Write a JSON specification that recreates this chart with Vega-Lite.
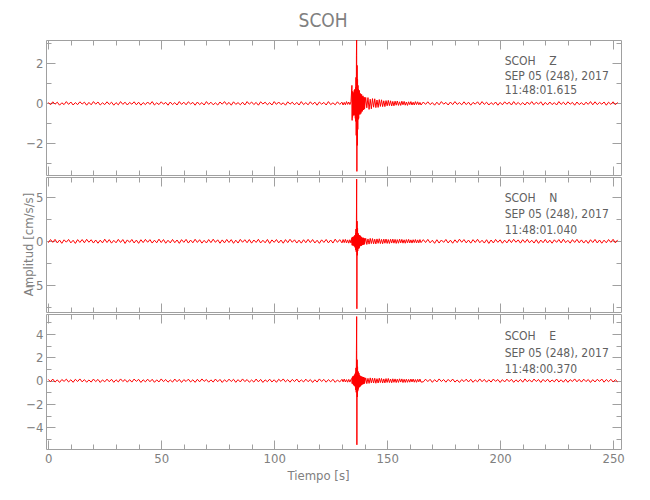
{
"$schema": "https://vega.github.io/schema/vega-lite/v6.json",
"background": "white",
"padding": {"left": 21, "top": 12, "right": 5, "bottom": 5},
"title": {"text": "SCOH", "fontSize": 19, "font": "Liberation Sans Narrow, DejaVu Sans Condensed, sans-serif", "fontWeight": "normal", "color": "#808080", "anchor": "middle", "offset": 8},
"spacing": 0,
"datasets": {
"notes": [
{"panel":"Z","t":202,"y":2.12,"label":"SCOH\u00a0\u00a0\u00a0\u00a0Z"},
{"panel":"Z","t":202,"y":1.39,"label":"SEP 05 (248), 2017"},
{"panel":"Z","t":202,"y":0.67,"label":"11:48:01.615"},
{"panel":"N","t":202,"y":4.92,"label":"SCOH\u00a0\u00a0\u00a0\u00a0N"},
{"panel":"N","t":202,"y":3.15,"label":"SEP 05 (248), 2017"},
{"panel":"N","t":202,"y":1.26,"label":"11:48:01.040"},
{"panel":"E","t":202,"y":3.85,"label":"SCOH\u00a0\u00a0\u00a0\u00a0E"},
{"panel":"E","t":202,"y":2.41,"label":"SEP 05 (248), 2017"},
{"panel":"E","t":202,"y":1.03,"label":"11:48:00.370"}
],
"wave": [
{"t":0,"z":0.05,"n":-0.16,"e":0.11},{"t":1,"z":-0.07,"n":0.2,"e":-0.09},{"t":2,"z":0.08,"n":-0.12,"e":0.14},{"t":3,"z":-0.04,"n":0.22,"e":-0.12},{"t":4,"z":0.06,"n":-0.19,"e":0.07},
{"t":5,"z":-0.09,"n":0.14,"e":-0.15},{"t":6,"z":0.03,"n":-0.23,"e":0.1},{"t":7,"z":-0.06,"n":0.17,"e":-0.06},{"t":8,"z":0.09,"n":-0.1,"e":0.13},{"t":9,"z":-0.05,"n":0.21,"e":-0.11},
{"t":10,"z":0.07,"n":-0.18,"e":0.08},{"t":11,"z":-0.08,"n":0.12,"e":-0.14},{"t":12,"z":0.04,"n":-0.24,"e":0.12},{"t":13,"z":-0.06,"n":0.19,"e":-0.07},{"t":14,"z":0.08,"n":-0.13,"e":0.15},
{"t":15,"z":-0.03,"n":0.2,"e":-0.1},{"t":16,"z":0.06,"n":-0.17,"e":0.09},{"t":17,"z":-0.09,"n":0.23,"e":-0.13},{"t":18,"z":0.05,"n":-0.11,"e":0.06},{"t":19,"z":-0.07,"n":0.18,"e":-0.12},
{"t":20,"z":0.09,"n":-0.2,"e":0.14},{"t":21,"z":-0.04,"n":0.15,"e":-0.08},{"t":22,"z":0.07,"n":-0.22,"e":0.11},{"t":23,"z":-0.08,"n":0.13,"e":-0.15},{"t":24,"z":0.03,"n":-0.18,"e":0.07},
{"t":25,"z":-0.06,"n":0.24,"e":-0.1},{"t":26,"z":0.08,"n":-0.14,"e":0.13},{"t":27,"z":-0.05,"n":0.19,"e":-0.09},{"t":28,"z":0.06,"n":-0.21,"e":0.12},{"t":29,"z":-0.09,"n":0.11,"e":-0.14},
{"t":30,"z":0.04,"n":-0.17,"e":0.08},{"t":31,"z":-0.07,"n":0.22,"e":-0.11},{"t":32,"z":0.09,"n":-0.13,"e":0.15},{"t":33,"z":-0.05,"n":0.2,"e":-0.07},{"t":34,"z":0.06,"n":-0.24,"e":0.1},
{"t":35,"z":-0.08,"n":0.16,"e":-0.13},{"t":36,"z":0.05,"n":-0.12,"e":0.09},{"t":37,"z":-0.04,"n":0.21,"e":-0.12},{"t":38,"z":0.08,"n":-0.19,"e":0.14},{"t":39,"z":-0.07,"n":0.14,"e":-0.06},
{"t":40,"z":0.06,"n":-0.23,"e":0.11},{"t":41,"z":-0.09,"n":0.18,"e":-0.15},{"t":42,"z":0.04,"n":-0.15,"e":0.08},{"t":43,"z":-0.06,"n":0.22,"e":-0.1},{"t":44,"z":0.07,"n":-0.11,"e":0.13},
{"t":45,"z":-0.05,"n":0.19,"e":-0.09},{"t":46,"z":0.09,"n":-0.2,"e":0.12},{"t":47,"z":-0.08,"n":0.13,"e":-0.14},{"t":48,"z":0.03,"n":-0.17,"e":0.07},{"t":49,"z":-0.06,"n":0.24,"e":-0.11},
{"t":50,"z":0.08,"n":-0.14,"e":0.15},{"t":51,"z":-0.04,"n":0.2,"e":-0.08},{"t":52,"z":0.05,"n":-0.22,"e":0.1},{"t":53,"z":-0.09,"n":0.12,"e":-0.13},{"t":54,"z":0.07,"n":-0.18,"e":0.06},
{"t":55,"z":-0.06,"n":0.21,"e":-0.12},{"t":56,"z":0.04,"n":-0.16,"e":0.14},{"t":57,"z":-0.08,"n":0.15,"e":-0.09},{"t":58,"z":0.09,"n":-0.23,"e":0.11},{"t":59,"z":-0.05,"n":0.19,"e":-0.15},
{"t":60,"z":0.06,"n":-0.12,"e":0.09},{"t":61,"z":-0.07,"n":0.22,"e":-0.07},{"t":62,"z":0.08,"n":-0.2,"e":0.13},{"t":63,"z":-0.03,"n":0.14,"e":-0.11},{"t":64,"z":0.05,"n":-0.17,"e":0.08},
{"t":65,"z":-0.09,"n":0.23,"e":-0.14},{"t":66,"z":0.07,"n":-0.13,"e":0.12},{"t":67,"z":-0.06,"n":0.18,"e":-0.1},{"t":68,"z":0.04,"n":-0.21,"e":0.15},{"t":69,"z":-0.08,"n":0.11,"e":-0.06},
{"t":70,"z":0.09,"n":-0.19,"e":0.1},{"t":71,"z":-0.05,"n":0.2,"e":-0.13},{"t":72,"z":0.06,"n":-0.15,"e":0.07},{"t":73,"z":-0.07,"n":0.24,"e":-0.12},{"t":74,"z":0.03,"n":-0.12,"e":0.14},
{"t":75,"z":-0.08,"n":0.17,"e":-0.09},{"t":76,"z":0.07,"n":-0.22,"e":0.11},{"t":77,"z":-0.04,"n":0.16,"e":-0.15},{"t":78,"z":0.09,"n":-0.18,"e":0.08},{"t":79,"z":-0.06,"n":0.21,"e":-0.1},
{"t":80,"z":0.05,"n":-0.14,"e":0.13},{"t":81,"z":-0.09,"n":0.19,"e":-0.07},{"t":82,"z":0.08,"n":-0.23,"e":0.12},{"t":83,"z":-0.05,"n":0.13,"e":-0.14},{"t":84,"z":0.04,"n":-0.2,"e":0.09},
{"t":85,"z":-0.07,"n":0.22,"e":-0.11},{"t":86,"z":0.06,"n":-0.11,"e":0.15},{"t":87,"z":-0.08,"n":0.18,"e":-0.08},{"t":88,"z":0.09,"n":-0.16,"e":0.1},{"t":89,"z":-0.04,"n":0.2,"e":-0.13},
{"t":90,"z":0.07,"n":-0.21,"e":0.06},{"t":91,"z":-0.06,"n":0.15,"e":-0.12},{"t":92,"z":0.05,"n":-0.13,"e":0.14},{"t":93,"z":-0.09,"n":0.23,"e":-0.1},{"t":94,"z":0.08,"n":-0.19,"e":0.11},
{"t":95,"z":-0.03,"n":0.12,"e":-0.15},{"t":96,"z":0.06,"n":-0.17,"e":0.07},{"t":97,"z":-0.07,"n":0.21,"e":-0.09},{"t":98,"z":0.04,"n":-0.24,"e":0.13},{"t":99,"z":-0.08,"n":0.16,"e":-0.11},
{"t":100,"z":0.09,"n":-0.12,"e":0.08},{"t":101,"z":-0.05,"n":0.2,"e":-0.14},{"t":102,"z":0.07,"n":-0.18,"e":0.12},{"t":103,"z":-0.06,"n":0.14,"e":-0.06},{"t":104,"z":0.03,"n":-0.22,"e":0.15},
{"t":105,"z":-0.09,"n":0.19,"e":-0.1},{"t":106,"z":0.08,"n":-0.15,"e":0.09},{"t":107,"z":-0.04,"n":0.23,"e":-0.13},{"t":108,"z":0.06,"n":-0.11,"e":0.11},{"t":109,"z":-0.07,"n":0.17,"e":-0.08},
{"t":110,"z":0.05,"n":-0.2,"e":0.14},{"t":111,"z":-0.08,"n":0.13,"e":-0.12},{"t":112,"z":0.09,"n":-0.21,"e":0.07},{"t":113,"z":-0.06,"n":0.18,"e":-0.11},{"t":114,"z":0.04,"n":-0.16,"e":0.13},
{"t":115,"z":-0.07,"n":0.22,"e":-0.09},{"t":116,"z":0.08,"n":-0.14,"e":0.1},{"t":117,"z":-0.05,"n":0.2,"e":-0.15},{"t":118,"z":0.06,"n":-0.19,"e":0.08},{"t":119,"z":-0.09,"n":0.12,"e":-0.12},
{"t":120,"z":0.07,"n":-0.23,"e":0.15},{"t":121,"z":-0.04,"n":0.17,"e":-0.07},{"t":122,"z":0.05,"n":-0.13,"e":0.11},{"t":123,"z":-0.08,"n":0.21,"e":-0.13},{"t":124,"z":0.09,"n":-0.18,"e":0.09},
{"t":125,"z":-0.06,"n":0.15,"e":-0.1},{"t":126,"z":0.03,"n":-0.2,"e":0.12},{"t":127,"z":-0.07,"n":0.24,"e":-0.14},{"t":128,"z":0.08,"n":-0.12,"e":0.06},{"t":129,"z":-0.05,"n":0.19,"e":-0.11},
{"t":130,"z":0.06,"n":-0.18,"e":0.12},{"t":130.5,"z":-0.08,"n":0.2,"e":-0.1},{"t":131,"z":0.05,"n":-0.15,"e":0.14},{"t":131.5,"z":-0.07,"n":0.22,"e":-0.11},{"t":132,"z":0.09,"n":-0.19,"e":0.09},
{"t":132.5,"z":-0.05,"n":0.16,"e":-0.13},{"t":133,"z":0.07,"n":-0.21,"e":0.11},{"t":133.5,"z":-0.06,"n":0.18,"e":-0.12},{"t":134,"z":0.08,"n":-0.2,"e":0.1},
{"t":134.4,"z":0.9,"n":0.4,"e":0.2},{"t":134.5,"z":-0.85,"n":-0.45,"e":-0.25},{"t":134.6,"z":0.6,"n":0.5,"e":0.3},{"t":134.7,"z":-0.7,"n":-0.4,"e":-0.2},{"t":134.8,"z":0.5,"n":0.35,"e":0.35},{"t":134.9,"z":-0.4,"n":-0.5,"e":-0.3},
{"t":135.0,"z":0.55,"n":0.45,"e":0.4},{"t":135.1,"z":-0.6,"n":-0.4,"e":-0.35},{"t":135.2,"z":0.45,"n":0.55,"e":0.3},{"t":135.3,"z":-0.5,"n":-0.5,"e":-0.4},{"t":135.4,"z":0.65,"n":0.4,"e":0.45},
{"t":135.5,"z":-0.55,"n":-0.6,"e":-0.4},{"t":135.6,"z":0.7,"n":0.65,"e":0.5},{"t":135.7,"z":-0.6,"n":-0.55,"e":-0.45},{"t":135.8,"z":0.5,"n":0.7,"e":0.6},{"t":135.9,"z":-0.75,"n":-0.75,"e":-0.55},
{"t":136.0,"z":0.8,"n":0.9,"e":0.7},{"t":136.1,"z":-0.9,"n":-1.0,"e":-0.8},{"t":136.2,"z":1.3,"n":1.4,"e":1.1},{"t":136.3,"z":-1.6,"n":-1.2,"e":-1.0},{"t":136.4,"z":2.4,"n":2.4,"e":2.6},
{"t":136.5,"z":3.4,"n":7.1,"e":5.5},{"t":136.6,"z":-3.4,"n":-7.7,"e":-5.5},{"t":136.7,"z":1.9,"n":2.3,"e":1.8},{"t":136.8,"z":-2.1,"n":-1.6,"e":-1.4},{"t":136.9,"z":1.2,"n":1.5,"e":1.2},
{"t":137.0,"z":-1.3,"n":-1.1,"e":-0.9},{"t":137.1,"z":0.9,"n":0.95,"e":0.8},{"t":137.2,"z":-0.8,"n":-0.85,"e":-0.75},{"t":137.3,"z":0.7,"n":0.8,"e":0.7},{"t":137.4,"z":-0.75,"n":-0.75,"e":-0.6},
{"t":137.5,"z":0.6,"n":0.7,"e":0.65},{"t":137.6,"z":-0.55,"n":-0.8,"e":-0.55},{"t":137.7,"z":0.65,"n":0.65,"e":0.5},{"t":137.8,"z":-0.5,"n":-0.6,"e":-0.55},{"t":137.9,"z":0.45,"n":0.7,"e":0.45},
{"t":138.0,"z":-0.55,"n":-0.55,"e":-0.5},{"t":138.1,"z":0.5,"n":0.6,"e":0.4},{"t":138.2,"z":-0.4,"n":-0.5,"e":-0.45},{"t":138.3,"z":0.45,"n":0.55,"e":0.38},{"t":138.4,"z":-0.5,"n":-0.45,"e":-0.4},
{"t":138.5,"z":0.35,"n":0.5,"e":0.35},{"t":138.6,"z":-0.4,"n":-0.5,"e":-0.38},{"t":138.7,"z":0.45,"n":0.4,"e":0.33},{"t":138.8,"z":-0.35,"n":-0.45,"e":-0.3},{"t":138.9,"z":0.3,"n":0.42,"e":0.34},
{"t":139.0,"z":-0.4,"n":-0.4,"e":-0.3},{"t":139.1,"z":0.35,"n":0.38,"e":0.28},{"t":139.2,"z":-0.3,"n":-0.42,"e":-0.32},{"t":139.3,"z":0.38,"n":0.36,"e":0.27},{"t":139.4,"z":-0.32,"n":-0.34,"e":-0.26},
{"t":139.5,"z":0.28,"n":0.4,"e":0.3},{"t":139.6,"z":-0.33,"n":-0.35,"e":-0.25},{"t":139.7,"z":0.3,"n":0.32,"e":0.27},{"t":139.8,"z":-0.26,"n":-0.36,"e":-0.24},{"t":139.9,"z":0.3,"n":0.33,"e":0.25},
{"t":140.0,"z":-0.27,"n":-0.3,"e":-0.23},
{"t":140.5,"z":0.3,"n":0.34,"e":0.24},{"t":141,"z":-0.22,"n":-0.36,"e":-0.25},{"t":141.5,"z":0.29,"n":0.27,"e":0.2},{"t":142,"z":-0.3,"n":-0.32,"e":-0.23},{"t":142.5,"z":0.21,"n":0.33,"e":0.24},
{"t":143,"z":-0.27,"n":-0.26,"e":-0.19},{"t":143.5,"z":0.24,"n":0.31,"e":0.22},{"t":144,"z":-0.19,"n":-0.29,"e":-0.2},{"t":144.5,"z":0.23,"n":0.24,"e":0.21},{"t":145,"z":-0.21,"n":-0.3,"e":-0.22},
{"t":145.5,"z":0.17,"n":0.27,"e":0.17},{"t":146,"z":-0.2,"n":-0.23,"e":-0.2},{"t":146.5,"z":0.19,"n":0.29,"e":0.21},{"t":147,"z":-0.15,"n":-0.26,"e":-0.16},{"t":147.5,"z":0.18,"n":0.22,"e":0.19},
{"t":148,"z":-0.16,"n":-0.28,"e":-0.2},{"t":148.5,"z":0.13,"n":0.25,"e":0.15},{"t":149,"z":-0.16,"n":-0.22,"e":-0.19},{"t":149.5,"z":0.14,"n":0.26,"e":0.18},{"t":150,"z":-0.12,"n":-0.24,"e":-0.15},
{"t":150.5,"z":0.15,"n":0.2,"e":0.19},{"t":151,"z":-0.11,"n":-0.25,"e":-0.16},{"t":151.5,"z":0.13,"n":0.23,"e":0.14},{"t":152,"z":-0.13,"n":-0.2,"e":-0.18},{"t":152.5,"z":0.1,"n":0.25,"e":0.16},
{"t":153,"z":-0.12,"n":-0.21,"e":-0.14},{"t":153.5,"z":0.11,"n":0.22,"e":0.15},{"t":154,"z":-0.09,"n":-0.24,"e":-0.16},{"t":154.5,"z":0.12,"n":0.19,"e":0.13},{"t":155,"z":-0.1,"n":-0.22,"e":-0.15},
{"t":155.5,"z":0.08,"n":0.24,"e":0.16},{"t":156,"z":-0.1,"n":-0.18,"e":-0.12},{"t":156.5,"z":0.11,"n":0.22,"e":0.15},{"t":157,"z":-0.07,"n":-0.21,"e":-0.16},{"t":157.5,"z":0.1,"n":0.17,"e":0.12},
{"t":158,"z":-0.09,"n":-0.22,"e":-0.15},{"t":158.5,"z":0.07,"n":0.2,"e":0.13},{"t":159,"z":-0.1,"n":-0.18,"e":-0.14},{"t":159.5,"z":0.08,"n":0.22,"e":0.11},{"t":160,"z":-0.06,"n":-0.19,"e":-0.13},
{"t":160.5,"z":0.09,"n":0.16,"e":0.14},{"t":161,"z":-0.08,"n":-0.2,"e":-0.11},{"t":161.5,"z":0.06,"n":0.18,"e":0.14},{"t":162,"z":-0.08,"n":-0.15,"e":-0.13},{"t":162.5,"z":0.09,"n":0.2,"e":0.1},
{"t":163,"z":-0.06,"n":-0.19,"e":-0.14},{"t":163.5,"z":0.08,"n":0.16,"e":0.12},{"t":164,"z":-0.07,"n":-0.18,"e":-0.1},{"t":164.5,"z":0.05,"n":0.2,"e":0.14},{"t":165,"z":-0.08,"n":-0.15,"e":-0.12},
{"t":166,"z":0.07,"n":0.19,"e":-0.1},{"t":167,"z":-0.05,"n":-0.14,"e":0.13},{"t":168,"z":0.08,"n":0.22,"e":-0.08},{"t":169,"z":-0.06,"n":-0.17,"e":0.12},{"t":170,"z":0.04,"n":0.12,"e":-0.14},
{"t":171,"z":-0.09,"n":-0.23,"e":0.09},{"t":172,"z":0.06,"n":0.18,"e":-0.11},{"t":173,"z":-0.07,"n":-0.2,"e":0.15},{"t":174,"z":0.09,"n":0.15,"e":-0.07},{"t":175,"z":-0.04,"n":-0.12,"e":0.1},
{"t":176,"z":0.05,"n":0.21,"e":-0.13},{"t":177,"z":-0.08,"n":-0.19,"e":0.11},{"t":178,"z":0.07,"n":0.13,"e":-0.09},{"t":179,"z":-0.06,"n":-0.22,"e":0.14},{"t":180,"z":0.09,"n":0.17,"e":-0.12},
{"t":181,"z":-0.05,"n":-0.15,"e":0.06},{"t":182,"z":0.04,"n":0.24,"e":-0.15},{"t":183,"z":-0.07,"n":-0.11,"e":0.1},{"t":184,"z":0.08,"n":0.2,"e":-0.08},{"t":185,"z":-0.06,"n":-0.18,"e":0.13},
{"t":186,"z":0.06,"n":0.14,"e":-0.11},{"t":187,"z":-0.09,"n":-0.21,"e":0.12},{"t":188,"z":0.05,"n":0.19,"e":-0.14},{"t":189,"z":-0.04,"n":-0.13,"e":0.07},{"t":190,"z":0.08,"n":0.23,"e":-0.1},
{"t":191,"z":-0.07,"n":-0.16,"e":0.15},{"t":192,"z":0.09,"n":0.12,"e":-0.09},{"t":193,"z":-0.05,"n":-0.2,"e":0.11},{"t":194,"z":0.06,"n":0.18,"e":-0.13},{"t":195,"z":-0.08,"n":-0.24,"e":0.08},
{"t":196,"z":0.04,"n":0.15,"e":-0.12},{"t":197,"z":-0.06,"n":-0.19,"e":0.14},{"t":198,"z":0.07,"n":0.21,"e":-0.06},{"t":199,"z":-0.09,"n":-0.12,"e":0.1},{"t":200,"z":0.05,"n":0.17,"e":-0.15},
{"t":201,"z":-0.07,"n":-0.22,"e":0.09},{"t":202,"z":0.08,"n":0.13,"e":-0.11},{"t":203,"z":-0.04,"n":-0.18,"e":0.13},{"t":204,"z":0.06,"n":0.2,"e":-0.08},{"t":205,"z":-0.08,"n":-0.15,"e":0.12},
{"t":206,"z":0.09,"n":0.23,"e":-0.14},{"t":207,"z":-0.06,"n":-0.11,"e":0.07},{"t":208,"z":0.05,"n":0.16,"e":-0.1},{"t":209,"z":-0.07,"n":-0.21,"e":0.11},{"t":210,"z":0.04,"n":0.19,"e":-0.13},
{"t":211,"z":-0.08,"n":-0.14,"e":0.15},{"t":212,"z":0.07,"n":0.22,"e":-0.09},{"t":213,"z":-0.05,"n":-0.17,"e":0.08},{"t":214,"z":0.09,"n":0.12,"e":-0.12},{"t":215,"z":-0.06,"n":-0.2,"e":0.14},
{"t":216,"z":0.06,"n":0.18,"e":-0.07},{"t":217,"z":-0.04,"n":-0.23,"e":0.1},{"t":218,"z":0.08,"n":0.14,"e":-0.15},{"t":219,"z":-0.09,"n":-0.16,"e":0.11},{"t":220,"z":0.05,"n":0.21,"e":-0.09},
{"t":221,"z":-0.07,"n":-0.19,"e":0.13},{"t":222,"z":0.07,"n":0.13,"e":-0.12},{"t":223,"z":-0.06,"n":-0.22,"e":0.06},{"t":224,"z":0.04,"n":0.17,"e":-0.1},{"t":225,"z":-0.08,"n":-0.12,"e":0.14},
{"t":226,"z":0.09,"n":0.2,"e":-0.11},{"t":227,"z":-0.05,"n":-0.18,"e":0.08},{"t":228,"z":0.06,"n":0.24,"e":-0.13},{"t":229,"z":-0.07,"n":-0.15,"e":0.12},{"t":230,"z":0.08,"n":0.11,"e":-0.14},
{"t":231,"z":-0.04,"n":-0.21,"e":0.09},{"t":232,"z":0.05,"n":0.19,"e":-0.07},{"t":233,"z":-0.09,"n":-0.13,"e":0.15},{"t":234,"z":0.07,"n":0.22,"e":-0.1},{"t":235,"z":-0.06,"n":-0.17,"e":0.11},
{"t":236,"z":0.04,"n":0.16,"e":-0.12},{"t":237,"z":-0.08,"n":-0.2,"e":0.13},{"t":238,"z":0.06,"n":0.12,"e":-0.08},{"t":239,"z":-0.05,"n":-0.23,"e":0.1},{"t":240,"z":0.09,"n":0.18,"e":-0.15},
{"t":241,"z":-0.07,"n":-0.14,"e":0.09},{"t":242,"z":0.08,"n":0.21,"e":-0.11},{"t":243,"z":-0.06,"n":-0.19,"e":0.12},{"t":244,"z":0.05,"n":0.15,"e":-0.06},{"t":245,"z":-0.04,"n":-0.22,"e":0.14},
{"t":246,"z":0.07,"n":0.13,"e":-0.13},{"t":247,"z":-0.09,"n":-0.17,"e":0.1},{"t":248,"z":0.06,"n":0.2,"e":-0.09},{"t":249,"z":-0.05,"n":-0.12,"e":0.12},{"t":250,"z":0.08,"n":0.23,"e":-0.11},
{"t":251,"z":-0.07,"n":-0.18,"e":0.08},{"t":252,"z":0.05,"n":0.16,"e":-0.1}
]
},
"vconcat": [
{
"width": 575, "height": 135,
"layer": [
{"data": {"name": "wave"}, "mark": {"type": "line", "color": "#ff0000", "strokeWidth": 1, "clip": true},
 "encoding": {
  "x": {"field": "t", "type": "quantitative", "scale": {"domain": [-1, 253.5], "nice": false, "zero": false}, "axis": {"orient": "bottom", "values": [0,50,100,150,200,250], "tickSize": -9, "labels": false, "title": null}},
  "y": {"field": "z", "type": "quantitative", "scale": {"domain": [-3.58, 3.17], "nice": false, "zero": false}, "axis": {"orient": "left", "values": [-2,0,2], "tickSize": -9, "labelPadding": 12, "title": null}}
 }},
{"data": {"name": "notes"}, "transform": [{"filter": "datum.panel == 'Z'"}],
 "mark": {"type": "text", "align": "left", "baseline": "middle", "font": "Liberation Sans Narrow, DejaVu Sans Condensed, sans-serif", "fontSize": 12, "color": "#606060"},
 "encoding": {
  "x": {"field": "t", "type": "quantitative", "scale": {"domain": [-1, 253.5], "nice": false, "zero": false}, "axis": {"orient": "top", "values": [0,50,100,150,200,250], "tickSize": -9, "labels": false, "title": null}},
  "y": {"field": "y", "type": "quantitative", "scale": {"domain": [-3.58, 3.17], "nice": false, "zero": false}, "axis": {"orient": "right", "values": [-2,0,2], "tickSize": -9, "labels": false, "title": null}},
  "text": {"field": "label"}
 }},
{"data": {"name": "notes"}, "transform": [{"filter": "datum.panel == 'Z'"}],
 "mark": {"type": "point", "opacity": 0},
 "encoding": {
  "x": {"field": "t", "type": "quantitative", "scale": {"domain": [-1, 253.5], "nice": false, "zero": false}, "axis": {"orient": "bottom", "values": [10,20,30,40,60,70,80,90,110,120,130,140,160,170,180,190,210,220,230,240], "tickSize": -5, "labels": false, "title": null}},
  "y": {"field": "y", "type": "quantitative", "scale": {"domain": [-3.58, 3.17], "nice": false, "zero": false}, "axis": {"orient": "left", "values": [-3,-1,1,3], "tickSize": -5, "labels": false, "title": null}}
 }},
{"data": {"name": "notes"}, "transform": [{"filter": "datum.panel == 'Z'"}],
 "mark": {"type": "point", "opacity": 0},
 "encoding": {
  "x": {"field": "t", "type": "quantitative", "scale": {"domain": [-1, 253.5], "nice": false, "zero": false}, "axis": {"orient": "top", "values": [10,20,30,40,60,70,80,90,110,120,130,140,160,170,180,190,210,220,230,240], "tickSize": -5, "labels": false, "title": null}},
  "y": {"field": "y", "type": "quantitative", "scale": {"domain": [-3.58, 3.17], "nice": false, "zero": false}, "axis": {"orient": "right", "values": [-3,-1,1,3], "tickSize": -5, "labels": false, "title": null}}
 }}
],
"resolve": {"axis": {"x": "independent", "y": "independent"}}
},
{
"width": 575, "height": 135,
"layer": [
{"data": {"name": "wave"}, "mark": {"type": "line", "color": "#ff0000", "strokeWidth": 1, "clip": true},
 "encoding": {
  "x": {"field": "t", "type": "quantitative", "scale": {"domain": [-1, 253.5], "nice": false, "zero": false}, "axis": {"orient": "bottom", "values": [0,50,100,150,200,250], "tickSize": -9, "labels": false, "title": null}},
  "y": {"field": "n", "type": "quantitative", "scale": {"domain": [-8.07, 7.34], "nice": false, "zero": false}, "axis": {"orient": "left", "values": [-5,0,5], "tickSize": -9, "labelPadding": 12, "title": "Amplitud [cm/s/s]", "titleX": -18, "titleY": 67, "titleBaseline": "middle"}}
 }},
{"data": {"name": "notes"}, "transform": [{"filter": "datum.panel == 'N'"}],
 "mark": {"type": "text", "align": "left", "baseline": "middle", "font": "Liberation Sans Narrow, DejaVu Sans Condensed, sans-serif", "fontSize": 12, "color": "#606060"},
 "encoding": {
  "x": {"field": "t", "type": "quantitative", "scale": {"domain": [-1, 253.5], "nice": false, "zero": false}, "axis": {"orient": "top", "values": [0,50,100,150,200,250], "tickSize": -9, "labels": false, "title": null}},
  "y": {"field": "y", "type": "quantitative", "scale": {"domain": [-8.07, 7.34], "nice": false, "zero": false}, "axis": {"orient": "right", "values": [-5,0,5], "tickSize": -9, "labels": false, "title": null}},
  "text": {"field": "label"}
 }},
{"data": {"name": "notes"}, "transform": [{"filter": "datum.panel == 'N'"}],
 "mark": {"type": "point", "opacity": 0},
 "encoding": {
  "x": {"field": "t", "type": "quantitative", "scale": {"domain": [-1, 253.5], "nice": false, "zero": false}, "axis": {"orient": "bottom", "values": [10,20,30,40,60,70,80,90,110,120,130,140,160,170,180,190,210,220,230,240], "tickSize": -5, "labels": false, "title": null}},
  "y": {"field": "y", "type": "quantitative", "scale": {"domain": [-8.07, 7.34], "nice": false, "zero": false}, "axis": {"orient": "left", "values": [-7.5,-2.5,2.5], "tickSize": -5, "labels": false, "title": null}}
 }},
{"data": {"name": "notes"}, "transform": [{"filter": "datum.panel == 'N'"}],
 "mark": {"type": "point", "opacity": 0},
 "encoding": {
  "x": {"field": "t", "type": "quantitative", "scale": {"domain": [-1, 253.5], "nice": false, "zero": false}, "axis": {"orient": "top", "values": [10,20,30,40,60,70,80,90,110,120,130,140,160,170,180,190,210,220,230,240], "tickSize": -5, "labels": false, "title": null}},
  "y": {"field": "y", "type": "quantitative", "scale": {"domain": [-8.07, 7.34], "nice": false, "zero": false}, "axis": {"orient": "right", "values": [-7.5,-2.5,2.5], "tickSize": -5, "labels": false, "title": null}}
 }}
],
"resolve": {"axis": {"x": "independent", "y": "independent"}}
},
{
"width": 575, "height": 135,
"layer": [
{"data": {"name": "wave"}, "mark": {"type": "line", "color": "#ff0000", "strokeWidth": 1, "clip": true},
 "encoding": {
  "x": {"field": "t", "type": "quantitative", "scale": {"domain": [-1, 253.5], "nice": false, "zero": false}, "axis": {"orient": "bottom", "values": [0,50,100,150,200,250], "tickSize": -9, "labelPadding": 12, "title": "Tiempo [s]", "titlePadding": 4, "titleX": 272}},
  "y": {"field": "e", "type": "quantitative", "scale": {"domain": [-5.86, 5.72], "nice": false, "zero": false}, "axis": {"orient": "left", "values": [-4,-2,0,2,4], "tickSize": -9, "labelPadding": 12, "title": null}}
 }},
{"data": {"name": "notes"}, "transform": [{"filter": "datum.panel == 'E'"}],
 "mark": {"type": "text", "align": "left", "baseline": "middle", "font": "Liberation Sans Narrow, DejaVu Sans Condensed, sans-serif", "fontSize": 12, "color": "#606060"},
 "encoding": {
  "x": {"field": "t", "type": "quantitative", "scale": {"domain": [-1, 253.5], "nice": false, "zero": false}, "axis": {"orient": "top", "values": [0,50,100,150,200,250], "tickSize": -9, "labels": false, "title": null}},
  "y": {"field": "y", "type": "quantitative", "scale": {"domain": [-5.86, 5.72], "nice": false, "zero": false}, "axis": {"orient": "right", "values": [-4,-2,0,2,4], "tickSize": -9, "labels": false, "title": null}},
  "text": {"field": "label"}
 }},
{"data": {"name": "notes"}, "transform": [{"filter": "datum.panel == 'E'"}],
 "mark": {"type": "point", "opacity": 0},
 "encoding": {
  "x": {"field": "t", "type": "quantitative", "scale": {"domain": [-1, 253.5], "nice": false, "zero": false}, "axis": {"orient": "bottom", "values": [10,20,30,40,60,70,80,90,110,120,130,140,160,170,180,190,210,220,230,240], "tickSize": -5, "labels": false, "title": null}},
  "y": {"field": "y", "type": "quantitative", "scale": {"domain": [-5.86, 5.72], "nice": false, "zero": false}, "axis": {"orient": "left", "values": [-5,-3,-1,1,3,5], "tickSize": -5, "labels": false, "title": null}}
 }},
{"data": {"name": "notes"}, "transform": [{"filter": "datum.panel == 'E'"}],
 "mark": {"type": "point", "opacity": 0},
 "encoding": {
  "x": {"field": "t", "type": "quantitative", "scale": {"domain": [-1, 253.5], "nice": false, "zero": false}, "axis": {"orient": "top", "values": [10,20,30,40,60,70,80,90,110,120,130,140,160,170,180,190,210,220,230,240], "tickSize": -5, "labels": false, "title": null}},
  "y": {"field": "y", "type": "quantitative", "scale": {"domain": [-5.86, 5.72], "nice": false, "zero": false}, "axis": {"orient": "right", "values": [-5,-3,-1,1,3,5], "tickSize": -5, "labels": false, "title": null}}
 }}
],
"resolve": {"axis": {"x": "independent", "y": "independent"}}
}
],
"config": {
 "font": "Liberation Sans Narrow, DejaVu Sans Condensed, sans-serif",
 "view": {"stroke": "#a0a0a0", "strokeWidth": 1},
 "axis": {"domain": false, "grid": false, "tickColor": "#a0a0a0", "tickWidth": 1, "labelColor": "#808080", "titleColor": "#808080", "labelFont": "Liberation Sans Narrow, DejaVu Sans Condensed, sans-serif", "titleFont": "Liberation Sans Narrow, DejaVu Sans Condensed, sans-serif", "labelFontSize": 13, "titleFontSize": 13, "titleFontWeight": "normal"}
}
}
